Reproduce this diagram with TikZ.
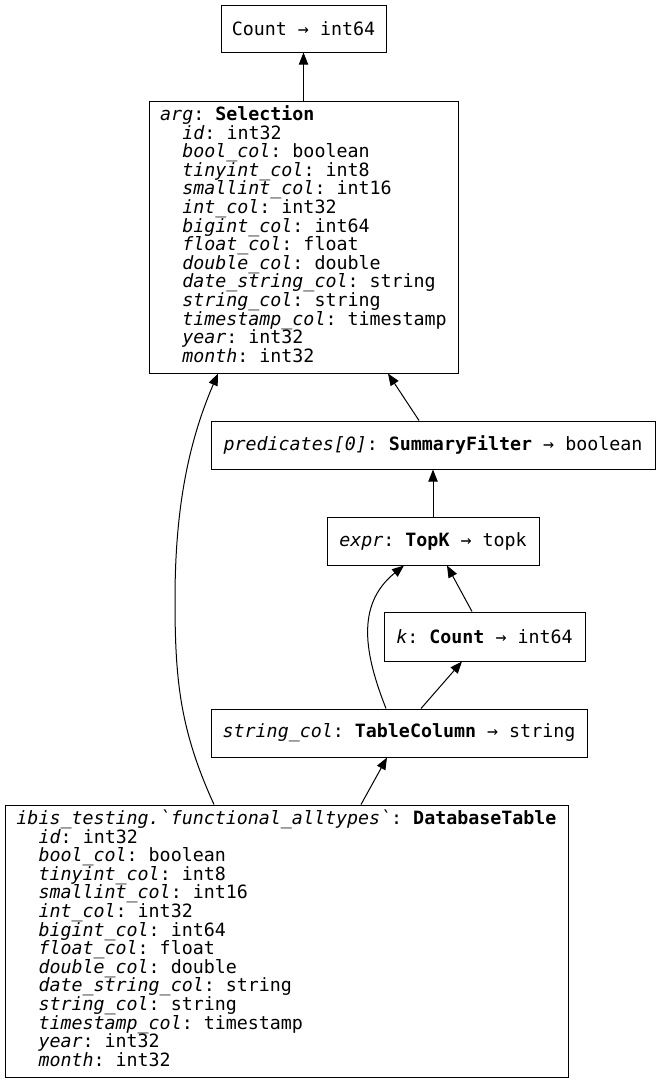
\documentclass[tikz,border=0pt]{standalone}
\usepackage{fontspec}
\setmonofont{DejaVu Sans Mono}
\usetikzlibrary{arrows.meta,calc}
\newcommand{\ind}{\hphantom{xx}}
\newcommand{\fld}[2]{\ind\textit{#1}: #2}
\tikzset{
  box/.style={draw, line width=0.75pt, inner sep=0pt, align=left,
    font=\ttfamily\fontsize{13.73}{13.95}\selectfont},
  bigbox/.style={box, text depth=4.5pt},
  edge/.style={line width=0.75pt, -{Triangle[length=9pt,width=7pt]}}
}
\begin{document}
\begin{tikzpicture}[x=0.75pt,y=-0.75pt]
\useasboundingbox[fill=white] (0,0) rectangle (660,1083);

\node[box, minimum width=165*0.75pt, minimum height=47*0.75pt] (cnt) at (303.5,28.5)
  {Count → int64};

\node[bigbox, minimum width=309*0.75pt, minimum height=272*0.75pt] (sel) at (303.5,237)
  {\textit{arg}: \textbf{Selection}\\
   \fld{id}{int32}\\
   \fld{bool\_col}{boolean}\\
   \fld{tinyint\_col}{int8}\\
   \fld{smallint\_col}{int16}\\
   \fld{int\_col}{int32}\\
   \fld{bigint\_col}{int64}\\
   \fld{float\_col}{float}\\
   \fld{double\_col}{double}\\
   \fld{date\_string\_col}{string}\\
   \fld{string\_col}{string}\\
   \fld{timestamp\_col}{timestamp}\\
   \fld{year}{int32}\\
   \fld{month}{int32}};

\node[box, minimum width=444*0.75pt, minimum height=48*0.75pt] (pred) at (433,445)
  {\textit{predicates[0]}: \textbf{SummaryFilter} → boolean};

\node[box, minimum width=212*0.75pt, minimum height=48*0.75pt] (expr) at (433,541)
  {\textit{expr}: \textbf{TopK} → topk};

\node[box, minimum width=201*0.75pt, minimum height=49*0.75pt] (k) at (484.5,636.5)
  {\textit{k}: \textbf{Count} → int64};

\node[box, minimum width=376*0.75pt, minimum height=48*0.75pt] (sc) at (399,733)
  {\textit{string\_col}: \textbf{TableColumn} → string};

\node[bigbox, minimum width=563*0.75pt, minimum height=272*0.75pt] (db) at (286.5,941)
  {\textit{ibis\_testing.\symbol{96}functional\_alltypes\symbol{96}}: \textbf{DatabaseTable}\\
   \fld{id}{int32}\\
   \fld{bool\_col}{boolean}\\
   \fld{tinyint\_col}{int8}\\
   \fld{smallint\_col}{int16}\\
   \fld{int\_col}{int32}\\
   \fld{bigint\_col}{int64}\\
   \fld{float\_col}{float}\\
   \fld{double\_col}{double}\\
   \fld{date\_string\_col}{string}\\
   \fld{string\_col}{string}\\
   \fld{timestamp\_col}{timestamp}\\
   \fld{year}{int32}\\
   \fld{month}{int32}};

\draw[edge] (sel.north) -- (cnt.south);
\draw[edge] ($(pred.north)+(-14,0)$) -- ($(sel.south)+(84.5,0)$);
\draw[edge] (expr.north) -- (pred.south);
\draw[edge] ($(k.north)+(-12.5,0)$) -- ($(expr.south)+(14,0)$);
\draw[edge] ($(sc.north)+(-13,0)$) .. controls (365,655) and (355,605) .. ($(expr.south)+(-29,0)$);
\draw[edge] ($(sc.north)+(22,0)$) -- ($(k.south)+(-22.5,0)$);
\draw[edge] ($(db.north)+(74.5,0)$) -- ($(sc.south)+(-12,0)$);
\draw[edge] ($(db.north)+(-72.5,0)$) .. controls (180,730) and (175,680) .. (175,600)
  .. controls (175,520) and (185,450) .. ($(sel.south)+(-85.5,0)$);
\end{tikzpicture}
\end{document}
